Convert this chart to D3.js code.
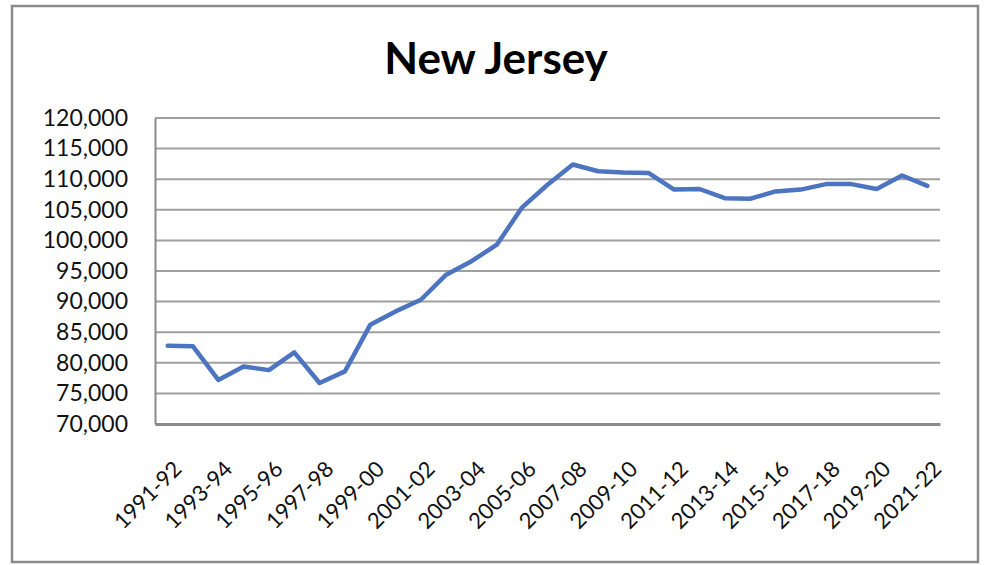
<!DOCTYPE html>
<html>
<head>
<meta charset="utf-8">
<script src="https://cdn.jsdelivr.net/npm/d3@7"></script>
<style>
  html, body { margin: 0; padding: 0; background: #fff; }
  svg { display: block; }
</style>
</head>
<body>
<svg id="chart" width="986" height="565"></svg>
<script>
// School years, one per data point
const years = [
  "1991-92","1992-93","1993-94","1994-95","1995-96","1996-97","1997-98","1998-99",
  "1999-00","2000-01","2001-02","2002-03","2003-04","2004-05","2005-06","2006-07",
  "2007-08","2008-09","2009-10","2010-11","2011-12","2012-13","2013-14","2014-15",
  "2015-16","2016-17","2017-18","2018-19","2019-20","2020-21","2021-22"
];

// New Jersey values per school year
const values = [
  82800, 82700, 77200, 79400, 78800, 81700, 76700, 78600,
  86200, 88400, 90300, 94400, 96600, 99300, 105400, 109100,
  112400, 111300, 111100, 111000, 108300, 108400, 106900, 106800,
  108000, 108300, 109200, 109200, 108400, 110600, 108900
];

// Value axis ticks
const yTicks = [70000, 75000, 80000, 85000, 90000, 95000, 100000, 105000, 110000, 115000, 120000];

const title = "New Jersey";

const svg = d3.select("#chart");
const plot = { left: 155, right: 940, top: 118, bottom: 424 };
const font = "Lato, 'Open Sans', sans-serif";

// Outer chart frame
svg.append("rect")
  .attr("x", 12).attr("y", 6)
  .attr("width", 966).attr("height", 556)
  .attr("fill", "#fff")
  .attr("stroke", "#8a8a8a")
  .attr("stroke-width", 2.5);

// Title
svg.append("text")
  .attr("x", 496).attr("y", 74)
  .attr("text-anchor", "middle")
  .attr("font-family", font)
  .attr("font-weight", "bold")
  .attr("font-size", 44)
  .attr("fill", "#000")
  .text(title);

const x = d3.scaleBand()
  .domain(years)
  .range([plot.left, plot.right])
  .paddingInner(0).paddingOuter(0);

const y = d3.scaleLinear()
  .domain([70000, 120000])
  .range([plot.bottom, plot.top]);

// Horizontal gridlines
svg.append("g")
  .selectAll("line")
  .data(yTicks.filter(d => d !== 70000))
  .join("line")
  .attr("x1", plot.left).attr("x2", plot.right)
  .attr("y1", d => y(d)).attr("y2", d => y(d))
  .attr("stroke", "#a0a0a0")
  .attr("stroke-width", 2);

// Value axis
const yAxis = svg.append("g")
  .attr("transform", `translate(${plot.left},0)`)
  .call(d3.axisLeft(y).tickValues(yTicks).tickSize(0).tickPadding(27)
    .tickFormat(d3.format(",")));
yAxis.select(".domain").attr("stroke", "#8a8a8a").attr("stroke-width", 2);
yAxis.selectAll("text")
  .attr("font-family", font)
  .attr("font-size", 23)
  .attr("fill", "#111");

// Category axis, labelled every other year
const labelYears = years.filter((d, i) => i % 2 === 0);
const xAxis = svg.append("g")
  .attr("transform", `translate(0,${plot.bottom})`)
  .call(d3.axisBottom(x).tickValues(labelYears).tickSize(0).tickPadding(0));
xAxis.select(".domain").attr("stroke", "#8a8a8a").attr("stroke-width", 3);
xAxis.selectAll(".tick text")
  .attr("font-family", font)
  .attr("font-size", 22)
  .attr("fill", "#111")
  .attr("text-anchor", "end")
  .attr("y", 0)
  .attr("dy", "0.35em")
  .attr("transform", "translate(10,41) rotate(-45)");

// Data line
const line = d3.line()
  .x((d, i) => x(years[i]) + x.bandwidth() / 2)
  .y(d => y(d));

svg.append("path")
  .datum(values)
  .attr("d", line)
  .attr("fill", "none")
  .attr("stroke", "#4c74c0")
  .attr("stroke-width", 4.5)
  .attr("stroke-linejoin", "round")
  .attr("stroke-linecap", "round");
</script>
</body>
</html>
